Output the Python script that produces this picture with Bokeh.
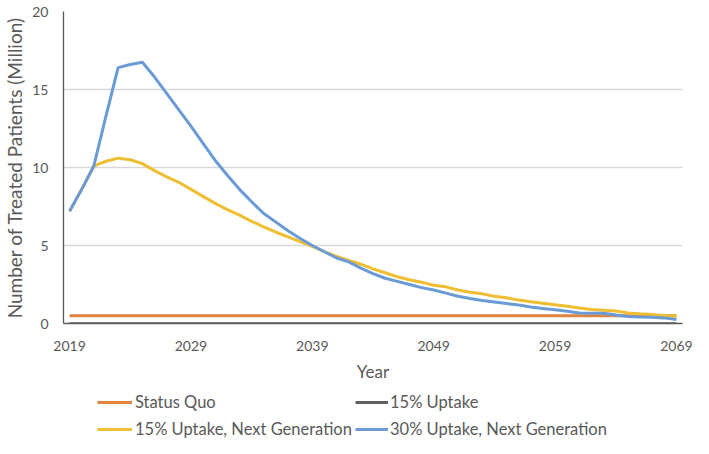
from bokeh.plotting import figure
from bokeh.layouts import column
from bokeh.models import Range1d, FixedTicker, Legend, LegendItem, ColumnDataSource
from bokeh.embed import file_html
from bokeh.resources import INLINE

# ---------------- data ----------------
years = list(range(2019, 2070))
x_ticks = [2019, 2029, 2039, 2049, 2059, 2069]
x_tick_labels = ["2019", "2029", "2039", "2049", "2059", "2069"]
y_ticks = [0, 5, 10, 15, 20]
y_tick_labels = ["0", "5", "10", "15", "20"]

series_names = ["Status Quo", "15% Uptake",
                "15% Uptake, Next Generation", "30% Uptake, Next Generation"]

status_quo = [0.5, 0.5, 0.5, 0.5, 0.5, 0.5, 0.5, 0.5, 0.5, 0.5,
              0.5, 0.5, 0.5, 0.5, 0.5, 0.5, 0.5, 0.5, 0.5, 0.5,
              0.5, 0.5, 0.5, 0.5, 0.5, 0.5, 0.5, 0.5, 0.5, 0.5,
              0.5, 0.5, 0.5, 0.5, 0.5, 0.5, 0.5, 0.5, 0.5, 0.5,
              0.5, 0.5, 0.5, 0.5, 0.5, 0.5, 0.5, 0.5, 0.5, 0.5, 0.5]

uptake_15 = [0, 0, 0, 0, 0, 0, 0, 0, 0, 0,
             0, 0, 0, 0, 0, 0, 0, 0, 0, 0,
             0, 0, 0, 0, 0, 0, 0, 0, 0, 0,
             0, 0, 0, 0, 0, 0, 0, 0, 0, 0,
             0, 0, 0, 0, 0, 0, 0, 0, 0, 0, 0]

uptake_15_next = [7.2, 8.6, 10.1, 10.4, 10.6, 10.5, 10.25, 9.8, 9.4, 9.05,
                  8.6, 8.15, 7.7, 7.3, 6.95, 6.55, 6.2, 5.85, 5.55, 5.25,
                  4.95, 4.6, 4.3, 4.05, 3.8, 3.5, 3.25, 3.0, 2.8, 2.65,
                  2.45, 2.35, 2.15, 2.0, 1.9, 1.75, 1.65, 1.5, 1.4, 1.3,
                  1.2, 1.1, 1.0, 0.9, 0.85, 0.8, 0.68, 0.62, 0.58, 0.5, 0.47]

uptake_30_next = [7.2, 8.6, 10.1, 13.3, 16.4, 16.6, 16.75, 15.8, 14.75, 13.7,
                  12.65, 11.55, 10.45, 9.5, 8.6, 7.8, 7.05, 6.5, 5.95, 5.45,
                  5.0, 4.6, 4.2, 3.95, 3.55, 3.2, 2.9, 2.7, 2.5, 2.3,
                  2.15, 1.95, 1.75, 1.6, 1.48, 1.38, 1.28, 1.18, 1.06, 0.96,
                  0.88, 0.78, 0.68, 0.66, 0.66, 0.55, 0.45, 0.42, 0.4, 0.36, 0.26]

# ---------------- styling ----------------
FONT = "Lato"
TXT = "#595959"
colors = ["#E0843F", "#5F5F5F", "#F0BE32", "#6A9BD6"]
widths = [3, 2.5, 3, 3]

source = ColumnDataSource(dict(
    year=years, sq=status_quo, u15=uptake_15, u15n=uptake_15_next, u30n=uptake_30_next))
cols = ["sq", "u15", "u15n", "u30n"]

W = 693
H1 = 388
H2 = 50
FRAME_LEFT = 63

p = figure(width=W, height=H1, output_backend="svg", toolbar_location=None,
           x_range=Range1d(2018.5, 2069.5), y_range=Range1d(0, 20),
           min_border_left=FRAME_LEFT, min_border_right=11, min_border_top=11,
           min_border_bottom=65)

p.outline_line_color = None
p.background_fill_color = "white"
p.border_fill_color = "white"

p.xgrid.grid_line_color = None
p.ygrid.grid_line_color = "#D9D9D9"
p.ygrid.grid_line_width = 1.3

p.xaxis.ticker = FixedTicker(ticks=x_ticks)
p.xaxis.major_label_overrides = {t: l for t, l in zip(x_ticks, x_tick_labels)}
p.yaxis.ticker = FixedTicker(ticks=y_ticks)
p.yaxis.major_label_overrides = {t: l for t, l in zip(y_ticks, y_tick_labels)}

for ax in (p.xaxis, p.yaxis):
    ax.major_tick_in = 0
    ax.major_tick_out = 0
    ax.minor_tick_in = 0
    ax.minor_tick_out = 0
    ax.axis_line_color = "#595959"
    ax.axis_line_width = 1.3
    ax.major_label_text_font = FONT
    ax.major_label_text_font_size = "14px"
    ax.major_label_text_color = TXT
    ax.axis_label_text_font = FONT
    ax.axis_label_text_font_style = "normal"
    ax.axis_label_text_color = TXT

p.xaxis.axis_label = "Year"
p.xaxis.axis_label_text_font_size = "17px"
p.xaxis.major_label_standoff = 17
p.xaxis.axis_label_standoff = 7

p.yaxis.axis_label = "Number of Treated Patients (Million)"
p.yaxis.axis_label_text_font_size = "19px"
p.yaxis.major_label_standoff = 15
p.yaxis.axis_label_standoff = 3

for c, col, w in zip(cols, colors, widths):
    p.line("year", c, source=source, line_color=col, line_width=w)

# ---------------- legend strip (below the chart) ----------------
# its ranges exclude the data, so only the legend keys show
lg = figure(width=W, height=H2, output_backend="svg", toolbar_location=None,
            x_range=Range1d(0, 1), y_range=Range1d(-10, -9),
            x_axis_location=None, y_axis_location=None,
            min_border_left=FRAME_LEFT, min_border_right=11, min_border_top=0,
            min_border_bottom=0)
lg.outline_line_color = None
lg.xgrid.visible = False
lg.ygrid.visible = False
lg.background_fill_color = "white"
lg.border_fill_color = "white"

key_renderers = []
for c, col, w in zip(cols, colors, widths):
    key_renderers.append(lg.line("year", c, source=source, line_color=col, line_width=3))

leg_pos = [(97 - FRAME_LEFT, 26), (355 - FRAME_LEFT, 26),
           (97 - FRAME_LEFT, -1), (355 - FRAME_LEFT, -1)]
glyph_w = [35, 33, 35, 33]
standoff = [3, 2, 3, 2]
for name, r, pos, gw, so in zip(series_names, key_renderers, leg_pos, glyph_w, standoff):
    leg = Legend(items=[LegendItem(label=name, renderers=[r])], location=pos,
                 orientation="horizontal", padding=0, margin=0, spacing=0,
                 glyph_width=gw, glyph_height=20, label_height=20,
                 label_standoff=so, label_text_font=FONT,
                 label_text_font_size="16.5px", label_text_color=TXT,
                 background_fill_alpha=0, border_line_alpha=0)
    lg.add_layout(leg, "center")

layout = column(p, lg, spacing=0)
open("out.html", "w").write(file_html(layout, INLINE))
